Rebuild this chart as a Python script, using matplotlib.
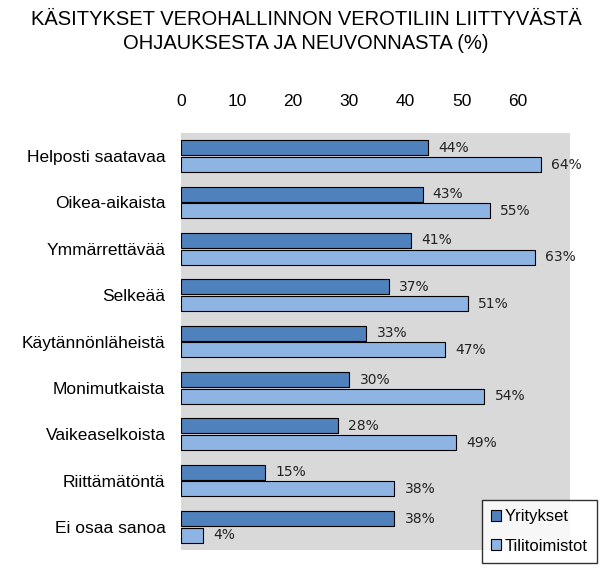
import matplotlib.pyplot as plt
import numpy as np

plt.rcParams['font.family'] = ['Liberation Sans', 'DejaVu Sans']

categories = ['Helposti saatavaa', 'Oikea-aikaista', 'Ymmärrettävää', 'Selkeää',
              'Käytännönläheistä', 'Monimutkaista', 'Vaikeaselkoista',
              'Riittämätöntä', 'Ei osaa sanoa']
yritykset = [44, 43, 41, 37, 33, 30, 28, 15, 38]
tilitoimistot = [64, 55, 63, 51, 47, 54, 49, 38, 4]
xticks = [0, 10, 20, 30, 40, 50, 60]

fig = plt.figure(figsize=(6, 5.73), dpi=100)
ax = fig.add_axes([0.3012, 0.0401, 0.6488, 0.7278])
ax.set_facecolor('#d9d9d9')

y = np.arange(len(categories))
h = 0.32
b1 = ax.barh(y - h / 2 - 0.02, yritykset, height=h, color='#4f81bd',
             edgecolor='black', linewidth=0.8, label='Yritykset')
b2 = ax.barh(y + h / 2 + 0.02, tilitoimistot, height=h, color='#8eb4e3',
             edgecolor='black', linewidth=0.8, label='Tilitoimistot')

for bars, vals in ((b1, yritykset), (b2, tilitoimistot)):
    for bar, v in zip(bars, vals):
        ax.text(v + 1.8, bar.get_y() + bar.get_height() / 2, f'{v}%',
                va='center', ha='left', fontsize=10, color='#222222',
                family=['DejaVu Sans'])

ax.set_xlim(0, 69.2)
ax.set_ylim(len(categories) - 0.5, -0.5)
ax.set_yticks(y)
ax.set_yticklabels(categories, fontsize=12.5)
ax.set_xticks(xticks)
ax.xaxis.tick_top()
ax.tick_params(axis='x', labelsize=12.5, length=0, pad=17)
ax.tick_params(axis='y', length=0, pad=11)
for s in ax.spines.values():
    s.set_visible(False)

fig.text(0.51, 0.982, 'KÄSITYKSET VEROHALLINNON VEROTILIIN LIITTYVÄSTÄ\nOHJAUKSESTA JA NEUVONNASTA (%)',
         ha='center', va='top', fontsize=14.5, linespacing=1.3)

leg = fig.legend(handles=[b1, b2], loc='lower right', bbox_to_anchor=(0.995, 0.018),
                 fontsize=12, frameon=True, fancybox=False, edgecolor='black',
                 handlelength=0.6, handleheight=0.6, handletextpad=0.25,
                 borderpad=0.55, borderaxespad=0, labelspacing=0.85)
leg.get_frame().set_linewidth(1.0)

fig.savefig('out.png', dpi=100)
